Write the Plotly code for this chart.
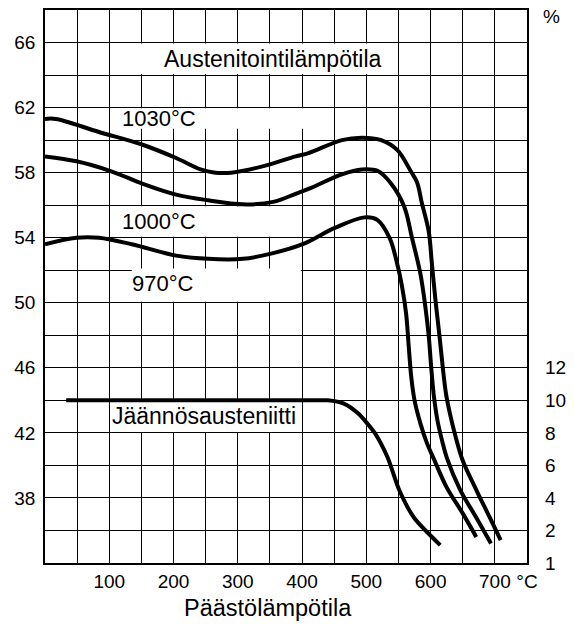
import plotly.graph_objects as go

# ---- data ----
# tempering temperature (°C) vs hardness (HRC) for three austenitizing temperatures
x_1030 = [0, 17, 84, 153, 204, 242, 265, 290, 340, 390, 410, 462, 493, 523, 548, 569, 579, 586, 597, 602, 608, 614, 619, 624, 630, 638, 650, 671, 692, 709]
y_1030 = [61.3, 61.3, 60.5, 59.7, 58.9, 58.2, 58.0, 58.0, 58.4, 59.0, 59.2, 60.0, 60.15, 60.0, 59.4, 58.1, 57.4, 56.2, 54.4, 52.4, 50.0, 47.9, 46.0, 44.4, 43.2, 41.9, 40.3, 38.5, 36.8, 35.4]

x_1000 = [0, 49, 102, 153, 204, 254, 308, 355, 390, 410, 462, 493, 518, 539, 559, 571, 584, 592, 597, 601, 605, 611, 618, 625, 646, 671, 694]
y_1000 = [59.0, 58.7, 58.1, 57.3, 56.65, 56.3, 56.05, 56.2, 56.7, 57.0, 57.9, 58.2, 58.1, 57.3, 55.9, 54.0, 51.8, 49.7, 48.0, 46.0, 44.3, 42.7, 41.5, 40.5, 38.5, 36.8, 35.2]

x_970 = [0, 49, 84, 135, 204, 254, 308, 355, 401, 451, 497, 517, 536, 548, 556, 562, 566, 570, 575, 584, 594, 605, 625, 650, 671]
y_970 = [53.6, 54.0, 54.0, 53.6, 52.9, 52.7, 52.7, 53.05, 53.6, 54.6, 55.25, 55.1, 54.0, 52.4, 50.9, 49.3, 47.3, 45.4, 44.0, 42.6, 41.4, 40.4, 38.65, 37.05, 35.6]

# retained austenite (%), right axis
x_ra = [33, 100, 200, 300, 400, 440, 465, 487, 513, 533, 551, 574, 615]
y_ra = [10.0, 10.0, 10.0, 10.0, 10.0, 10.0, 9.8, 9.2, 8.0, 6.5, 4.5, 2.8, 1.1]

# axis ticks
x_ticks = list(range(0, 751, 50))
x_ticklabels = ["", "", "100", "", "200", "", "300", "", "400", "", "500", "", "600", "", "700", "°C"]
y_ticks = list(range(34, 69, 2))
y_ticklabels = ["", "", "38", "", "42", "", "46", "", "50", "", "54", "", "58", "", "62", "", "66", ""]
y2_ticks = [0, 2, 4, 6, 8, 10, 12]
y2_ticklabels = ["1", "2", "4", "6", "8", "10", "12"]

labels = ["Austenitointilämpötila", "1030°C", "1000°C", "970°C", "Jäännösausteniitti"]
label_x = [354, 177, 177, 184, 248]
label_y = [65.0, 61.35, 55.0, 51.2, 43.05]
label_size = [23, 22, 22, 22, 23]

# white label boxes that hide the grid (x0, x1, y0, y1 in data units)
boxes = [(125, 535, 64.06, 65.94), (120, 425, 60.7, 61.96), (120, 385, 54.06, 55.94),
         (135, 398, 50.06, 52.1), (102, 398, 42.06, 43.94)]

FONT = "Liberation Sans, Arial, sans-serif"
LW = 4
SMOOTH = 1.0

fig = go.Figure()
for xs, ys in [(x_1030, y_1030), (x_1000, y_1000), (x_970, y_970)]:
    fig.add_trace(go.Scatter(x=xs, y=ys, mode="lines",
                             line=dict(color="black", width=LW, shape="spline", smoothing=SMOOTH),
                             showlegend=False, hoverinfo="skip"))
fig.add_trace(go.Scatter(x=x_ra, y=y_ra, mode="lines", yaxis="y2",
                         line=dict(color="black", width=LW, shape="spline", smoothing=0.7),
                         showlegend=False, hoverinfo="skip"))

for (x0, x1, y0, y1) in boxes:
    fig.add_shape(type="rect", xref="x", yref="y", x0=x0, x1=x1, y0=y0, y1=y1,
                  fillcolor="white", line=dict(width=0), layer="between")

for t, lx, ly, fs in zip(labels, label_x, label_y, label_size):
    fig.add_annotation(x=lx, y=ly, xref="x", yref="y", text=t, showarrow=False,
                       font=dict(family=FONT, size=fs, color="black"),
                       xanchor="center", yanchor="middle")

fig.add_annotation(x=1.051, y=0.989, xref="paper", yref="paper", text="%", showarrow=False,
                   font=dict(family=FONT, size=19, color="black"), xanchor="center", yanchor="middle")
fig.add_annotation(x=0.463, y=-0.082, xref="paper", yref="paper", text="Päästölämpötila",
                   showarrow=False, font=dict(family=FONT, size=23.5, color="black"),
                   xanchor="center", yanchor="middle")

fig.update_layout(
    width=574, height=624,
    margin=dict(l=45, r=39, t=8, b=61),
    paper_bgcolor="white", plot_bgcolor="white",
    font=dict(family=FONT, size=19, color="black"),
    xaxis=dict(range=[0, 750], tickvals=x_ticks, ticktext=x_ticklabels,
               showgrid=True, gridcolor="black", gridwidth=1, zeroline=False,
               showline=True, linecolor="black", linewidth=1.5, mirror=True,
               ticks="", ticklabelstandoff=0, tickfont=dict(size=19)),
    yaxis=dict(range=[34, 68], tickvals=y_ticks, ticktext=y_ticklabels,
               showgrid=True, gridcolor="black", gridwidth=1, zeroline=False,
               showline=True, linecolor="black", linewidth=1.5, mirror=True,
               ticks="", ticklabelstandoff=4, tickfont=dict(size=19)),
    yaxis2=dict(range=[0, 34], overlaying="y", side="right", tickvals=y2_ticks,
                ticktext=y2_ticklabels, showgrid=False, zeroline=False, showline=False,
                ticks="", ticklabelstandoff=17, tickfont=dict(size=19)),
)

fig.write_html("out.html")
